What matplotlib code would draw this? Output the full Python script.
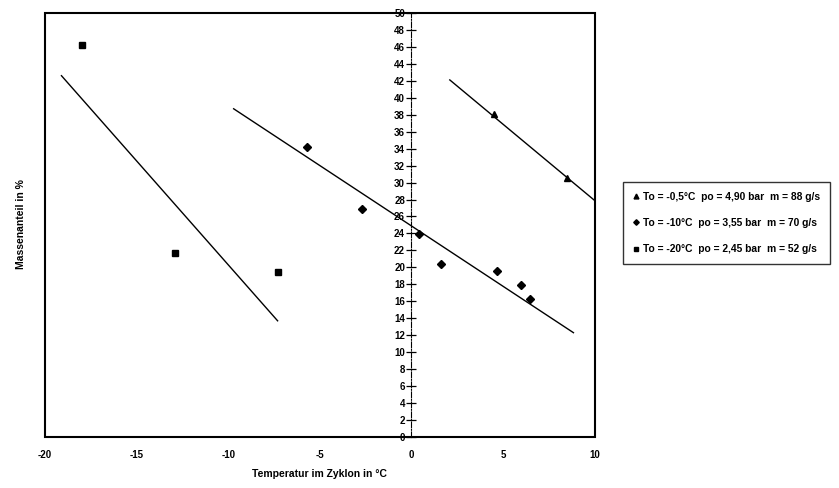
import numpy as np
import matplotlib.pyplot as plt
from matplotlib.patches import Rectangle

plt.rcParams['font.family'] = ['Liberation Sans', 'DejaVu Sans']
plt.rcParams['font.weight'] = 'bold'
plt.rcParams['axes.unicode_minus'] = False

# series: To = -0,5 °C (triangles)
tri_x = [4.5, 8.5]
tri_y = [38.1, 30.5]
tri_fit_x = [2.1, 10.0]
tri_fit_y = [42.1, 27.9]

# series: To = -10 °C (diamonds)
dia_x = [-5.7, -2.7, 0.4, 1.6, 4.7, 6.0, 6.5]
dia_y = [34.2, 26.9, 23.9, 20.4, 19.6, 17.9, 16.3]
dia_fit_x = [-9.7, 8.85]
dia_fit_y = [38.7, 12.3]

# series: To = -20 °C (squares)
sq_x = [-18.0, -12.9, -7.3]
sq_y = [46.2, 21.7, 19.5]
sq_fit_x = [-19.1, -7.3]
sq_fit_y = [42.6, 13.7]

labels = [
    "To = -0,5\u00b0C  po = 4,90 bar  m = 88 g/s",
    "To = -10\u00b0C  po = 3,55 bar  m = 70 g/s",
    "To = -20\u00b0C  po = 2,45 bar  m = 52 g/s",
]
x_ticks = [-20, -15, -10, -5, 0, 5, 10]
y_ticks = list(range(0, 51, 2))

fig = plt.figure(figsize=(8.39, 4.88), dpi=100)
ax = fig.add_axes([0.0536, 0.1045, 0.655, 0.869])

# fit lines
ax.plot(tri_fit_x, tri_fit_y, color="black", lw=1.0)
ax.plot(dia_fit_x, dia_fit_y, color="black", lw=1.0)
ax.plot(sq_fit_x, sq_fit_y, color="black", lw=1.0)

# measured points
h_tri, = ax.plot(tri_x, tri_y, "^", color="black", ms=5, ls="none")
h_dia, = ax.plot(dia_x, dia_y, "D", color="black", ms=4, ls="none")
h_sq, = ax.plot(sq_x, sq_y, "s", color="black", ms=5, ls="none")

ax.set_xlim(-20, 10)
ax.set_ylim(0, 50)

# y axis crosses at x = 0, frame drawn separately
ax.spines["left"].set_position(("data", 0))
ax.spines["left"].set_linestyle((0, (5, 1.5, 1, 1.5)))
ax.spines["left"].set_linewidth(0.8)
for side in ["top", "right", "bottom"]:
    ax.spines[side].set_visible(False)
ax.add_patch(Rectangle((0, 0), 1, 1, transform=ax.transAxes, fill=False,
                       edgecolor="black", lw=1.5, clip_on=False, zorder=5))

ax.set_yticks(y_ticks)
ax.tick_params(axis="y", direction="inout", length=7, width=0.9,
               labelsize=7, pad=1)
ax.set_xticks(x_ticks)
ax.tick_params(axis="x", length=0, labelsize=7, pad=9)

ax.set_xlabel("Temperatur im Zyklon in \u00b0C", fontsize=7.5,
              fontweight="bold", labelpad=7)
fig.text(0.025, 0.54, "Massenanteil in %", rotation=90, fontsize=7.5,
         fontweight="bold", ha="center", va="center")

leg = fig.legend([h_tri, h_dia, h_sq], labels, loc="upper left",
                 bbox_to_anchor=(0.7365, 0.638), fontsize=7.4, frameon=True,
                 fancybox=False, edgecolor="black", handlelength=0.6,
                 handletextpad=0.4, labelspacing=1.6, borderpad=0.95,
                 markerscale=0.7)
leg.get_frame().set_linewidth(1.0)

fig.savefig("out.png", dpi=100)
